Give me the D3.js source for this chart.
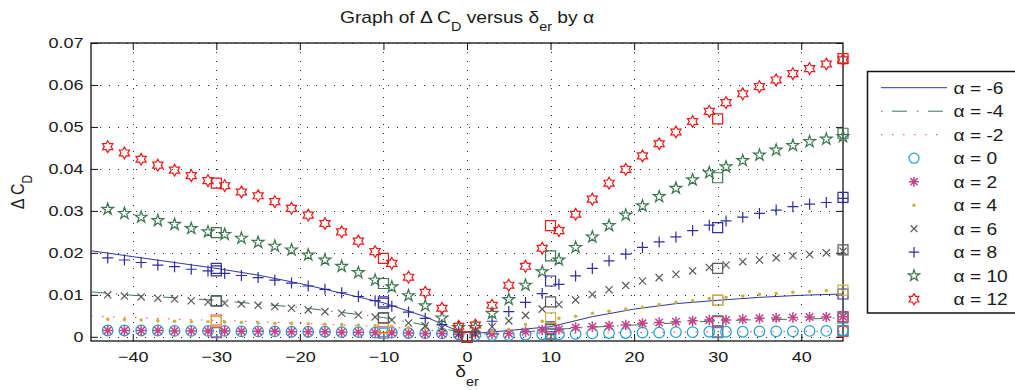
<!DOCTYPE html>
<html>
<head>
<meta charset="utf-8">
<script src="https://cdn.jsdelivr.net/npm/d3@7"></script>
<style>
  body { margin: 0; background: #fff; }
  svg { display: block; }
  text { font-family: "Liberation Sans", Arial, Helvetica, sans-serif; fill: #1a1a1a; }
</style>
</head>
<body>
<svg id="chart" width="1015" height="390"></svg>
<script>
// ---- data ---------------------------------------------------------------
const alphaLabels = ["α = -6", "α = -4", "α = -2", "α = 0", "α = 2", "α = 4", "α = 6", "α = 8", "α = 10", "α = 12"];

// elevator-ruddervator deflection grid for the marker series (deg)
const deltaGrid = [-43, -41, -39, -37, -35, -33, -31, -29, -27, -25, -23, -21, -19, -17, -15, -13, -11, -9, -7, -5, -3, -1,
                   1, 3, 5, 7, 9, 11, 13, 15, 17, 19, 21, 23, 25, 27, 29, 31, 33, 35, 37, 39, 41, 43, 45];
// deflections for the line series
const lineDeltas = [-45, -40, -35, -30, -25, -20, -15, -10, -5, -1, 1, 5, 10, 15, 20, 25, 30, 35, 40, 45];
// deflections of the square reference points
const refDeltas = [-30, -10, 0, 10, 30, 45];

const xTicks = [-40, -30, -20, -10, 0, 10, 20, 30, 40];
const yTicks = [0, 0.01, 0.02, 0.03, 0.04, 0.05, 0.06, 0.07];

// line series
const cdAlphaM6 = [.0205, .0191, .0177, .0163, .0147, .0127, .0104, .0081, .0048, .0013, .0008, .0015, .0024, .0048, .0066, .0079, .0087, .0094, .0099, .0102];
const cdAlphaM4 = [.0107, .0099, .0093, .0087, .0078, .0070, .0058, .0046, .0028, .0012, .0006, .0008, .0017, .0023, .0028, .0033, .0038, .0041, .0042, .0045];
const cdAlphaM2 = [.0049, .0046, .0042, .0039, .0036, .0032, .0028, .0024, .0017, .0008, .0006, .0006, .0008, .0009, .0010, .0011, .0012, .0012, .0013, .0013];

// marker series
const cdAlpha0 = [.0015, .0015, .0015, .0015, .0014, .0014, .0014, .0014, .0013, .0013, .0013, .0012, .0012, .0012, .0011, .0011, .0010, .0010, .0009, .0008, .0008, .0006,
                  .0004, .0004, .0004, .0005, .0006, .0006, .0007, .0008, .0009, .0009, .0010, .0010, .0011, .0011, .0012, .0012, .0012, .0013, .0013, .0013, .0014, .0014, .0015];
const cdAlpha2 = [.0015, .0015, .0015, .0015, .0014, .0014, .0014, .0014, .0013, .0013, .0013, .0012, .0012, .0012, .0011, .0011, .0010, .0010, .0009, .0008, .0008, .0006,
                  .0007, .0007, .0008, .0012, .0016, .0018, .0022, .0024, .0026, .0028, .0032, .0034, .0036, .0038, .0040, .0040, .0042, .0044, .0045, .0046, .0047, .0047, .0048];
const cdAlpha4 = [.0042, .0041, .0040, .0038, .0037, .0036, .0036, .0035, .0034, .0033, .0032, .0032, .0031, .0030, .0029, .0028, .0027, .0025, .0022, .0020, .0017, .0012,
                  .0008, .0012, .0018, .0029, .0037, .0044, .0049, .0056, .0061, .0066, .0070, .0077, .0082, .0086, .0091, .0094, .0097, .0101, .0103, .0106, .0108, .0110, .0112];
const cdAlpha6 = [.0100, .0097, .0095, .0092, .0090, .0086, .0083, .0080, .0078, .0075, .0072, .0068, .0064, .0060, .0056, .0052, .0047, .0040, .0033, .0026, .0021, .0008,
                  .0008, .0024, .0038, .0051, .0066, .0077, .0088, .0101, .0112, .0122, .0133, .0141, .0149, .0157, .0165, .0171, .0179, .0183, .0188, .0193, .0196, .0200, .0204];
const cdAlpha8 = [.0188, .0183, .0177, .0171, .0167, .0161, .0157, .0151, .0146, .0141, .0135, .0128, .0121, .0113, .0105, .0096, .0086, .0073, .0059, .0044, .0029, .0012,
                  .0012, .0037, .0060, .0082, .0103, .0125, .0145, .0163, .0181, .0197, .0213, .0226, .0238, .0253, .0266, .0276, .0285, .0294, .0302, .0310, .0316, .0320, .0330];
const cdAlpha10 = [.0304, .0294, .0285, .0277, .0268, .0258, .0250, .0244, .0235, .0225, .0216, .0207, .0195, .0183, .0168, .0153, .0135, .0119, .0098, .0074, .0045, .0022,
                   .0022, .0056, .0089, .0123, .0155, .0183, .0213, .0238, .0265, .0290, .0312, .0334, .0354, .0374, .0391, .0405, .0420, .0433, .0445, .0456, .0465, .0471, .0477];
const cdAlpha12 = [.0453, .0438, .0423, .0409, .0397, .0384, .0372, .0360, .0345, .0336, .0322, .0306, .0290, .0270, .0250, .0228, .0203, .0175, .0142, .0106, .0068, .0025,
                   .0028, .0075, .0123, .0168, .0211, .0253, .0292, .0328, .0366, .0399, .0431, .0460, .0488, .0513, .0537, .0558, .0579, .0596, .0612, .0627, .0639, .0650, .0660];

// square reference points, one row per alpha (same order as the labels)
const refM6 = [.0163, .0083, 0, .0024, .0087, .0102];
const refM4 = [.0086, .0045, 0, .0017, .0038, .0045];
const refM2 = [.0040, .0022, 0, .0008, .0012, .0013];
const ref0  = [.0012, .0009, 0, .0006, .0010, .0015];
const ref2  = [.0010, .0012, 0, .0020, .0036, .0048];
const ref4  = [.0036, .0020, 0, .0045, .0087, .0111];
const ref6  = [.0085, .0045, 0, .0083, .0163, .0207];
const ref8  = [.0157, .0080, 0, .0133, .0260, .0332];
const ref10 = [.0248, .0127, 0, .0193, .0379, .0485];
const ref12 = [.0366, .0187, 0, .0265, .0519, .0663];

// ---- series styling -----------------------------------------------------
const series = [
  { label: alphaLabels[0], type: "line", xs: lineDeltas, ys: cdAlphaM6, refs: refM6, color: "#34349e", dash: null, legendOffset: 0 },
  { label: alphaLabels[1], type: "line", xs: lineDeltas, ys: cdAlphaM4, refs: refM4, color: "#3c7650", dash: "15,10,1.5,9.5", legendOffset: 25 },
  { label: alphaLabels[2], type: "line", xs: lineDeltas, ys: cdAlphaM2, refs: refM2, color: "#ff3b3b", dash: "1.5,9.5", legendOffset: 0 },
  { label: alphaLabels[3], type: "marker", xs: deltaGrid, ys: cdAlpha0, refs: ref0, color: "#1d9fd2", marker: "circle" },
  { label: alphaLabels[4], type: "marker", xs: deltaGrid, ys: cdAlpha2, refs: ref2, color: "#c2468a", marker: "asterisk" },
  { label: alphaLabels[5], type: "marker", xs: deltaGrid, ys: cdAlpha4, refs: ref4, color: "#c9b443", marker: "dot" },
  { label: alphaLabels[6], type: "marker", xs: deltaGrid, ys: cdAlpha6, refs: ref6, color: "#5a5a5a", marker: "cross" },
  { label: alphaLabels[7], type: "marker", xs: deltaGrid, ys: cdAlpha8, refs: ref8, color: "#2e2ea0", marker: "plus" },
  { label: alphaLabels[8], type: "marker", xs: deltaGrid, ys: cdAlpha10, refs: ref10, color: "#3c7650", marker: "pentagram" },
  { label: alphaLabels[9], type: "marker", xs: deltaGrid, ys: cdAlpha12, refs: ref12, color: "#f01818", marker: "hexagram" }
];

// ---- layout -------------------------------------------------------------
const plot = { left: 91, right: 843, top: 43, bottom: 341 };
const SX = 1.2;          // horizontal text stretch
const TICK = 7;

const svg = d3.select("#chart");
const x = d3.scaleLinear().domain([-45, 45]).range([plot.left, plot.right]);
const y = d3.scaleLinear().domain([-0.001, 0.07]).range([plot.bottom, plot.top]);

// ---- marker shapes ------------------------------------------------------
function starPath(points, rOuter, rInner) {
  const p = d3.path();
  for (let k = 0; k < points * 2; k++) {
    const r = k % 2 === 0 ? rOuter : rInner;
    const a = -Math.PI / 2 + k * Math.PI / points;
    const px = r * Math.cos(a), py = r * Math.sin(a);
    if (k === 0) p.moveTo(px, py); else p.lineTo(px, py);
  }
  p.closePath();
  return p.toString();
}
function markerPath(kind, s = 1) {
  switch (kind) {
    case "circle": { const p = d3.path(); p.arc(0, 0, 5.3 * s, 0, 2 * Math.PI); return p.toString(); }
    case "dot": { const p = d3.path(); p.arc(0, 0, 1.8 * s, 0, 2 * Math.PI); return p.toString(); }
    case "plus": { const r = 5.5 * s; return `M${-r},0H${r}M0,${-r}V${r}`; }
    case "cross": { const r = 3.6 * s; return `M${-r},${-r}L${r},${r}M${-r},${r}L${r},${-r}`; }
    case "asterisk": { const r = 5.2 * s, d = r * 0.72;
      return `M${-r},0H${r}M0,${-r}V${r}M${-d},${-d}L${d},${d}M${-d},${d}L${d},${-d}`; }
    case "pentagram": return starPath(5, 6.2 * s, 6.2 * s * 0.382);
    case "hexagram": return starPath(6, 5.9 * s, 5.9 * s / Math.sqrt(3));
    case "square": { const h = 5 * s; return `M${-h},${-h}H${h}V${h}H${-h}Z`; }
  }
}
function styleMarker(sel, kind, color) {
  if (kind === "dot") sel.attr("fill", color).attr("stroke", "none");
  else sel.attr("fill", "none").attr("stroke", color).attr("stroke-width", kind === "asterisk" ? 1.5 : 1.2);
}

// ---- grid ---------------------------------------------------------------
const grid = svg.append("g").attr("stroke", "#222").attr("stroke-width", 1);
grid.selectAll("line.v").data(xTicks).join("line")
  .attr("x1", d => Math.round(x(d)) + 0.5).attr("x2", d => Math.round(x(d)) + 0.5)
  .attr("y1", plot.top).attr("y2", plot.bottom)
  .attr("stroke-dasharray", "1,8");
grid.selectAll("line.h").data(yTicks).join("line")
  .attr("x1", plot.left).attr("x2", plot.right)
  .attr("y1", d => Math.round(y(d)) + 0.5).attr("y2", d => Math.round(y(d)) + 0.5)
  .attr("stroke-dasharray", "1,8");

// ---- axes ---------------------------------------------------------------
const fmtY = d => d === 0 ? "0" : d3.format(".2f")(d);
function cleanAxis(g) {
  g.attr("font-size", null).attr("font-family", null);
  g.select(".domain").remove();
  g.selectAll(".tick line").attr("stroke", "#111");
}
const gBottom = svg.append("g").attr("transform", `translate(0,${plot.bottom})`)
  .call(d3.axisBottom(x).tickValues(xTicks).tickSize(-TICK).tickPadding(10.5).tickFormat(d3.format("d")))
  .call(cleanAxis);
gBottom.selectAll("text").attr("font-size", 15).attr("transform", `scale(${SX},1)`);

svg.append("g").attr("transform", `translate(0,${plot.top})`)
  .call(d3.axisTop(x).tickValues(xTicks).tickSize(-TICK).tickFormat(""))
  .call(cleanAxis);

const gLeft = svg.append("g").attr("transform", `translate(${plot.left},0)`)
  .call(d3.axisLeft(y).tickValues(yTicks).tickSize(-TICK).tickPadding(6.2).tickFormat(fmtY))
  .call(cleanAxis);
gLeft.selectAll("text").attr("font-size", 15).attr("transform", `scale(${SX},1)`);

svg.append("g").attr("transform", `translate(${plot.right},0)`)
  .call(d3.axisRight(y).tickValues(yTicks).tickSize(-TICK).tickFormat(""))
  .call(cleanAxis);

svg.append("rect")
  .attr("x", plot.left).attr("y", plot.top)
  .attr("width", plot.right - plot.left).attr("height", plot.bottom - plot.top)
  .attr("fill", "none").attr("stroke", "#111").attr("stroke-width", 1.3);

// ---- series -------------------------------------------------------------
const lineGen = d3.line().x(d => x(d[0])).y(d => y(d[1]));
const layer = svg.append("g");
series.forEach(s => {
  const pts = s.xs.map((d, i) => [d, s.ys[i]]);
  if (s.type === "line") {
    layer.append("path").datum(pts)
      .attr("d", lineGen).attr("fill", "none")
      .attr("stroke", s.color).attr("stroke-width", 1)
      .attr("stroke-dasharray", s.dash);
  } else {
    layer.append("g").selectAll("path").data(pts).join("path")
      .attr("transform", d => `translate(${x(d[0])},${y(d[1])})`)
      .attr("d", markerPath(s.marker))
      .call(sel => styleMarker(sel, s.marker, s.color));
  }
});
// square reference points
series.forEach(s => {
  const pts = refDeltas.map((d, i) => [d, s.refs[i]]);
  layer.append("g").selectAll("path").data(pts).join("path")
    .attr("transform", d => `translate(${x(d[0])},${y(d[1])})`)
    .attr("d", markerPath("square"))
    .attr("fill", "none").attr("stroke", s.color).attr("stroke-width", 1.2);
});

// ---- titles -------------------------------------------------------------
const title = svg.append("text")
  .attr("transform", `translate(${(plot.left + plot.right) / 2},23.3) scale(${SX},1)`)
  .attr("text-anchor", "middle").attr("font-size", 16);
title.append("tspan").text("Graph of Δ C");
title.append("tspan").attr("dy", 7.5).attr("font-size", 12).text("D");
title.append("tspan").attr("dy", -7.5).text(" versus δ");
title.append("tspan").attr("dy", 7.5).attr("font-size", 12).text("er");
title.append("tspan").attr("dy", -7.5).text(" by α");

const xLabel = svg.append("text")
  .attr("transform", `translate(${(plot.left + plot.right) / 2},376.7) scale(${SX},1)`)
  .attr("text-anchor", "middle").attr("font-size", 16);
xLabel.append("tspan").text("δ");
xLabel.append("tspan").attr("dy", 9.5).attr("font-size", 12).text("er");

const yLabel = svg.append("text")
  .attr("transform", `translate(24,192) scale(${SX},1) rotate(-90)`)
  .attr("text-anchor", "middle").attr("font-size", 16);
yLabel.append("tspan").text("Δ C");
yLabel.append("tspan").attr("dy", 6.5).attr("font-size", 12).text("D");

// ---- legend -------------------------------------------------------------
const legend = svg.append("g");
legend.append("rect")
  .attr("x", 867.5).attr("y", 71.5).attr("width", 200).attr("height", 241.5)
  .attr("fill", "#fff").attr("stroke", "#111").attr("stroke-width", 1.5);
const rowY = i => 87.7 + i * 23.5;
series.forEach((s, i) => {
  const ry = rowY(i);
  if (s.type === "line") {
    legend.append("line")
      .attr("x1", 881).attr("x2", 947).attr("y1", ry).attr("y2", ry)
      .attr("stroke", s.color).attr("stroke-width", 1)
      .attr("stroke-dasharray", s.dash)
      .attr("stroke-dashoffset", s.legendOffset);
  } else {
    legend.append("path")
      .attr("transform", `translate(914,${ry})`)
      .attr("d", markerPath(s.marker, 0.95))
      .call(sel => styleMarker(sel, s.marker, s.color));
  }
  legend.append("text")
    .attr("transform", `translate(953.5,${ry + 6}) scale(${SX},1)`)
    .attr("font-size", 16).text(s.label);
});
</script>
</body>
</html>
